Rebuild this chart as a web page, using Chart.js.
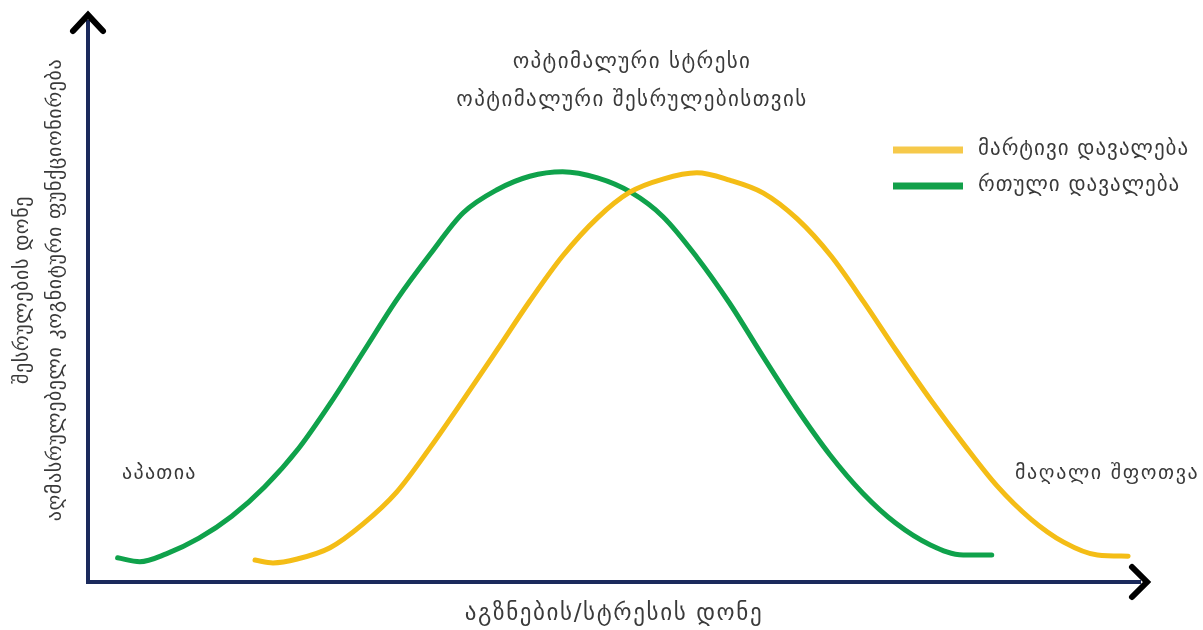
<!DOCTYPE html>
<html>
<head>
<meta charset="utf-8">
<script src="https://cdn.jsdelivr.net/npm/chart.js@4"></script>
<style>
  html, body { margin: 0; padding: 0; background: #fff; }
  #wrap { width: 1203px; height: 630px; }
</style>
</head>
<body>
<div id="wrap"><canvas id="yerkes"></canvas></div>
<script>
// ── Data (x = arousal 0–100, y = performance 0–100) ──
const HARD_X = [2.8, 4.9, 7.4, 10.5, 13.6, 16.7, 19.9, 23.0, 26.1, 29.2, 32.4, 35.5, 38.7, 41.8, 44.9, 48.2, 51.3, 54.4, 57.6, 60.7, 63.9, 67.0, 70.2, 73.3, 76.4, 79.7, 82.8, 85.5];
const HARD_Y = [4.3, 3.6, 5.0, 7.8, 11.7, 16.9, 23.7, 32.0, 41.1, 50.2, 58.4, 65.7, 69.8, 72.2, 73.0, 71.9, 69.4, 65.0, 57.8, 49.6, 40.0, 31.0, 22.6, 15.8, 10.5, 6.6, 4.8, 4.8];
const EASY_X = [15.8, 17.5, 19.8, 22.9, 26.0, 29.2, 32.4, 35.5, 38.7, 41.8, 44.9, 48.2, 51.3, 54.4, 57.6, 60.7, 63.9, 67.1, 70.3, 73.4, 76.5, 79.8, 82.9, 86.0, 89.2, 92.3, 95.5, 98.4];
const EASY_Y = [3.9, 3.4, 4.1, 6.1, 10.3, 16.0, 24.0, 32.4, 41.3, 50.0, 58.0, 64.8, 69.4, 71.7, 72.8, 71.5, 69.2, 64.6, 58.0, 49.8, 41.1, 32.2, 24.4, 17.1, 11.2, 7.1, 4.8, 4.6];

const SERIES_LABELS = ['მარტივი დავალება', 'რთული დავალება'];
const TITLE_LINES   = ['ოპტიმალური სტრესი', 'ოპტიმალური შესრულებისთვის'];
const X_TITLE       = 'აგზნების/სტრესის დონე';
const Y_TITLE_LINES = ['შესრულების დონე', 'აღმასრულებელი კოგნიტური ფუნქციონირება'];
const LOW_NOTE      = 'აპათია';
const HIGH_NOTE     = 'მაღალი შფოთვა';

const YELLOW = '#f4bd16';
const GREEN  = '#0fa24b';
const NAVY   = '#1b2a5c';
const TEXT   = '#3a3a3a';
const FONT   = '"DejaVu Sans", sans-serif';

const pts = (xs, ys) => xs.map((x, i) => ({ x, y: ys[i] }));

function text(ctx, str, x, y, size, spacing) {
  ctx.font = `${size}px ${FONT}`;
  ctx.letterSpacing = `${spacing}px`;
  ctx.fillText(str, x, y);
}

// ── Axes with arrow heads + all the free text ───────────────────────────
const decorations = {
  id: 'decorations',
  beforeDatasetsDraw(chart) {
    const { ctx, chartArea: a } = chart;
    ctx.save();
    ctx.strokeStyle = NAVY;
    ctx.lineWidth = 4;
    ctx.beginPath();
    ctx.moveTo(a.left, 20);
    ctx.lineTo(a.left, a.bottom);
    ctx.lineTo(a.right - 4, a.bottom);
    ctx.stroke();

    // chevrons
    ctx.strokeStyle = '#000';
    ctx.lineWidth = 6;
    ctx.lineCap = 'round';
    ctx.beginPath();
    ctx.moveTo(a.left - 15, 31);
    ctx.lineTo(a.left, 15);
    ctx.lineTo(a.left + 15, 31);
    ctx.stroke();
    ctx.beginPath();
    ctx.moveTo(a.right - 13, a.bottom - 15);
    ctx.lineTo(a.right + 2, a.bottom);
    ctx.lineTo(a.right - 13, a.bottom + 15);
    ctx.stroke();
    ctx.restore();
  },
  afterDraw(chart) {
    const { ctx } = chart;
    ctx.save();
    ctx.fillStyle = TEXT;
    ctx.textBaseline = 'middle';

    ctx.textAlign = 'center';
    text(ctx, TITLE_LINES[0], 632, 63, 21, 1.4);
    text(ctx, TITLE_LINES[1], 632, 101, 21, 1.4);
    text(ctx, X_TITLE, 614, 614, 23, 1.6);

    // y title (rotated)
    ctx.save();
    ctx.translate(23, 290);
    ctx.rotate(-Math.PI / 2);
    text(ctx, Y_TITLE_LINES[0], 0, 0, 20, 0.6);
    text(ctx, Y_TITLE_LINES[1], 0, 33, 20, 0.6);
    ctx.restore();

    ctx.textAlign = 'left';
    text(ctx, LOW_NOTE, 122, 474, 20, 1.3);
    text(ctx, HIGH_NOTE, 1015, 474, 20, 1.6);

    // legend
    chart.data.datasets.forEach((ds, i) => {
      const y = 150 + i * 36;
      ctx.strokeStyle = ds.legendColor;
      ctx.lineWidth = 7;
      ctx.beginPath();
      ctx.moveTo(893, y);
      ctx.lineTo(963, y);
      ctx.stroke();
      text(ctx, ds.label, 978, y, 21, 1);
    });
    ctx.restore();
  }
};

new Chart(document.getElementById('yerkes'), {
  type: 'line',
  data: {
    datasets: [
      { label: SERIES_LABELS[0], data: pts(EASY_X, EASY_Y), borderColor: YELLOW, legendColor: '#f6c94a' },
      { label: SERIES_LABELS[1], data: pts(HARD_X, HARD_Y), borderColor: GREEN, legendColor: '#12a04a' },
    ]
  },
  options: {
    responsive: true,
    maintainAspectRatio: false,
    animation: false,
    layout: { padding: { left: 88, right: 58, top: 20, bottom: 48 } },
    elements: {
      line: { borderWidth: 5, cubicInterpolationMode: 'monotone', borderCapStyle: 'round', fill: false },
      point: { radius: 0 }
    },
    scales: {
      x: { type: 'linear', min: 0, max: 100, display: false },
      y: { type: 'linear', min: 0, max: 100, display: false }
    },
    plugins: { legend: { display: false }, tooltip: { enabled: false } }
  },
  plugins: [decorations]
});
</script>
</body>
</html>
